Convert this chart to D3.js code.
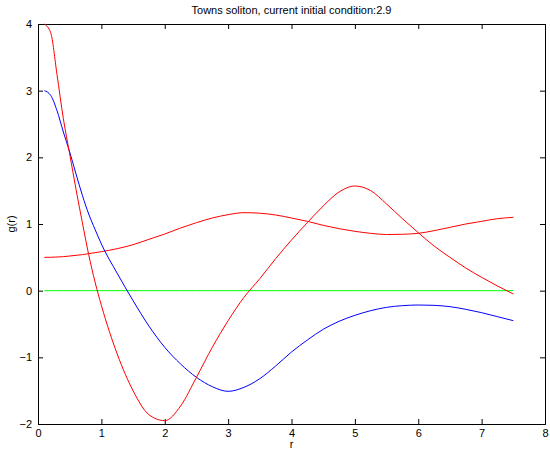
<!DOCTYPE html>
<html>
<head>
    <meta charset="utf-8">
    <title>Towns soliton</title>
    <script src="https://d3js.org/d3.v7.min.js"></script>
    <style>
        body { margin: 0; background: #fff; }
        text { font-family: "Liberation Sans", Arial, Helvetica, sans-serif; }
    </style>
</head>
<body>
<script>
// sample radii shared by all curves
const rValues = [0.1, 0.2, 0.3, 0.4, 0.5, 0.6, 0.7, 0.8, 0.9, 1.0,
    1.25, 1.5, 1.75, 2.0, 2.25, 2.5, 2.75, 3.0, 3.25, 3.5, 3.75, 4.0,
    4.25, 4.5, 4.75, 5.0, 5.25, 5.5, 5.75, 6.0, 6.25, 6.5, 6.75, 7.0, 7.25, 7.5];

const blueCurve = [3.0, 2.93, 2.7, 2.38, 2.08, 1.75, 1.43, 1.15, 0.92, 0.7,
    0.26, -0.15, -0.53, -0.85, -1.1, -1.3, -1.44, -1.51, -1.45, -1.32, -1.13, -0.92,
    -0.74, -0.58, -0.46, -0.37, -0.3, -0.25, -0.225, -0.215, -0.22, -0.24, -0.28, -0.33, -0.39, -0.45];

const redCurve = [4.0, 3.87, 3.24, 2.58, 2.05, 1.52, 1.02, 0.54, 0.13, -0.22,
    -0.95, -1.5, -1.86, -1.95, -1.73, -1.3, -0.85, -0.45, -0.1, 0.18, 0.48, 0.76,
    1.02, 1.27, 1.48, 1.57, 1.5, 1.3, 1.08, 0.87, 0.67, 0.5, 0.34, 0.2, 0.07, -0.05];

const redFlatCurve = [0.5, 0.501, 0.505, 0.51, 0.52, 0.53, 0.54, 0.555, 0.57, 0.585,
    0.63, 0.69, 0.77, 0.85, 0.94, 1.02, 1.09, 1.14, 1.17, 1.162, 1.135, 1.09,
    1.04, 0.98, 0.93, 0.89, 0.86, 0.842, 0.846, 0.86, 0.9, 0.95, 1.0, 1.04, 1.08, 1.1];

const greenCurve = rValues.map(() => 0);

const xTicks = [0, 1, 2, 3, 4, 5, 6, 7, 8];
const yTicks = [-2, -1, 0, 1, 2, 3, 4];

const margin = { top: 24, right: 5, bottom: 28, left: 38 };
const width = 550 - margin.left - margin.right;
const height = 452 - margin.top - margin.bottom;

const svg = d3.select('body')
    .append('svg')
    .attr('width', 550)
    .attr('height', 452)
    .append('g')
    .attr('transform', `translate(${margin.left},${margin.top})`);

const x = d3.scaleLinear().domain([0, 8]).range([0, width]);
const y = d3.scaleLinear().domain([-2, 4]).range([height, 0]);

const fmt = d => (d < 0 ? '\u2212' : '') + Math.abs(d);

// axes with inward ticks, matlab style box
svg.append('g')
    .attr('transform', `translate(0,${height})`)
    .call(d3.axisBottom(x).tickValues(xTicks).tickSize(-5).tickPadding(5).tickFormat(fmt));
svg.append('g')
    .call(d3.axisTop(x).tickValues(xTicks).tickSize(-5).tickFormat(''));
svg.append('g')
    .call(d3.axisLeft(y).tickValues(yTicks).tickSize(-5).tickPadding(6).tickFormat(fmt));
svg.append('g')
    .attr('transform', `translate(${width},0)`)
    .call(d3.axisRight(y).tickValues(yTicks).tickSize(-5).tickFormat(''));

svg.selectAll('.domain').attr('stroke', '#000');
svg.selectAll('.tick line').attr('stroke', '#000');
svg.selectAll('.tick text').attr('font-size', 11).attr('fill', '#000')
    .attr('font-family', '"Liberation Sans", Arial, sans-serif');

const line = d3.line()
    .x((d, i) => x(rValues[i]))
    .y(d => y(d))
    .curve(d3.curveMonotoneX);

const series = [
    { values: greenCurve, color: '#00ff00' },
    { values: redFlatCurve, color: '#ff0000' },
    { values: blueCurve, color: '#0000ff' },
    { values: redCurve, color: '#ff0000' }
];

svg.selectAll('path.curve')
    .data(series)
    .enter()
    .append('path')
    .attr('class', 'curve')
    .attr('d', d => line(d.values))
    .attr('fill', 'none')
    .attr('stroke', d => d.color)
    .attr('stroke-width', 1);

// title and labels
svg.append('text')
    .attr('x', width / 2)
    .attr('y', -10)
    .attr('text-anchor', 'middle')
    .attr('font-size', 11)
    .text('Towns soliton, current initial condition:2.9');

svg.append('text')
    .attr('x', width / 2)
    .attr('y', height + 24)
    .attr('text-anchor', 'middle')
    .attr('font-size', 11)
    .text('r');

svg.append('text')
    .attr('x', -height / 2)
    .attr('y', -23)
    .attr('transform', 'rotate(-90)')
    .attr('text-anchor', 'middle')
    .attr('font-size', 11)
    .text('g(r)');
</script>
</body>
</html>
